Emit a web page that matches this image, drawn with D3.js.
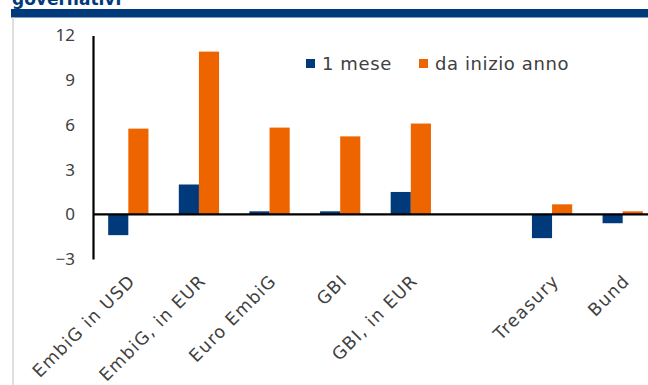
<!DOCTYPE html>
<html>
<head>
<meta charset="utf-8">
<script src="https://cdn.jsdelivr.net/npm/d3@7"></script>
<style>
  body { margin: 0; background: #fff; }
  svg { display: block; font-family: "DejaVu Sans", "Noto Sans", sans-serif; }
</style>
</head>
<body>
<svg id="chart" width="648" height="385"></svg>
<script>
// categories (blank slot between GBI in EUR and Treasury)
const categories = ["EmbiG in USD", "EmbiG, in EUR", "Euro EmbiG", "GBI", "GBI, in EUR", "", "Treasury", "Bund"];
const mese = [-1.4, 2.0, 0.2, 0.2, 1.5, null, -1.6, -0.6];
const inizioAnno = [5.75, 10.92, 5.82, 5.23, 6.09, null, 0.67, 0.2];
const yTicks = [-3, 0, 3, 6, 9, 12];
const seriesNames = ["1 mese", "da inizio anno"];
const colors = ["#003A7A", "#EE6500"];

const svg = d3.select("#chart");

// header: cropped title + band + frame line
svg.append("text")
    .attr("x", 12)
    .attr("y", 5)
    .attr("fill", "#003A7A")
    .attr("font-weight", "bold")
    .attr("font-size", 17)
    .text("governativi");

svg.append("rect")
    .attr("x", 11).attr("y", 9)
    .attr("width", 637).attr("height", 8.5)
    .attr("fill", "#003A7A");

svg.append("line")
    .attr("x1", 13).attr("x2", 13)
    .attr("y1", 17).attr("y2", 385)
    .attr("stroke", "#c8c8c8")
    .attr("stroke-width", 1.2);

const x = d3.scaleBand()
    .domain(d3.range(categories.length))
    .range([93, 658])
    .paddingInner(0.43)
    .paddingOuter(0.215);

const xSub = d3.scaleBand()
    .domain([0, 1])
    .range([0, x.bandwidth()]);

const y = d3.scaleLinear()
    .domain([-3, 12])
    .range([259, 35.5]);

// bars
const series = [mese, inizioAnno];
series.forEach((vals, s) => {
    svg.append("g")
        .selectAll("rect")
        .data(vals.map((v, i) => ({ v, i })).filter(d => d.v !== null))
        .enter()
        .append("rect")
        .attr("x", d => x(d.i) + xSub(s))
        .attr("width", xSub.bandwidth())
        .attr("y", d => y(Math.max(0, d.v)))
        .attr("height", d => Math.abs(y(d.v) - y(0)))
        .attr("fill", colors[s]);
});

// y axis
const yAxis = svg.append("g")
    .attr("transform", "translate(93,0)")
    .call(d3.axisLeft(y).tickValues(yTicks).tickSize(0).tickPadding(18));
yAxis.select(".domain").attr("stroke", "#000").attr("stroke-width", 2.2);
yAxis.selectAll("text")
    .attr("font-size", 17)
    .attr("fill", "#404040")
    .attr("font-family", "Noto Sans, DejaVu Sans, sans-serif");

// zero line
svg.append("line")
    .attr("x1", 93).attr("x2", 648)
    .attr("y1", y(0)).attr("y2", y(0))
    .attr("stroke", "#000")
    .attr("stroke-width", 2.2);

// x labels
svg.append("g")
    .selectAll("text")
    .data(categories.map((c, i) => ({ c, i })).filter(d => d.c !== ""))
    .enter()
    .append("text")
    .attr("transform", d => `translate(${x(d.i) + x.bandwidth() / 2 + 8},${282}) rotate(-45)`)
    .attr("text-anchor", "end")
    .attr("font-size", 17.5)
    .attr("letter-spacing", 1.2)
    .attr("fill", "#404040")
    .text(d => d.c);

// legend
const legend = svg.append("g");
const legendX = [306, 419];
seriesNames.forEach((name, s) => {
    legend.append("rect")
        .attr("x", legendX[s]).attr("y", 59)
        .attr("width", 9).attr("height", 9)
        .attr("fill", colors[s]);
    legend.append("text")
        .attr("x", legendX[s] + 16)
        .attr("y", 70)
        .attr("font-size", 18)
        .attr("letter-spacing", 0.6)
        .attr("fill", "#404040")
        .text(name);
});
</script>
</body>
</html>
